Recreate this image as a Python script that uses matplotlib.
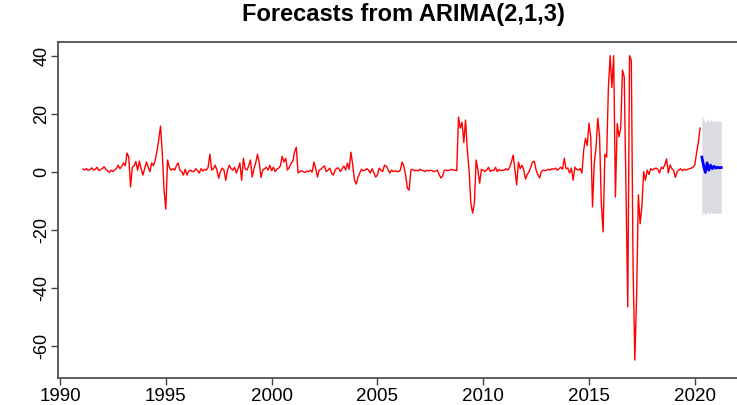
import numpy as np
import matplotlib.pyplot as plt

plt.rcParams['font.family'] = ['Liberation Sans', 'DejaVu Sans']
plt.rcParams['axes.unicode_minus'] = False

# observed monthly series, Feb 1991 .. Apr 2020
y1991 = [0.9, 0.6, 1.0, 0.4, 0.7, 1.3, 0.5, 0.8, 1.5, 0.3, 0.7]
y1992 = [1.0, 1.7, 0.8, 0.3, -0.3, 0.5, 0.0, 0.6, 1.0, 2.2, 1.0, 1.8]
y1993 = [3.0, 2.0, 6.4, 5.0, -5.3, 1.5, 2.0, 3.5, 0.5, 3.6, 1.0, -1.2]
y1994 = [1.0, 3.3, 1.5, 0.0, 3.0, 2.0, 4.0, 7.0, 11.0, 15.7, 6.4, -6.4]
y1995 = [-13.0, 4.0, 1.5, 0.5, 1.0, 0.5, 2.0, 3.0, 0.5, 0.0, -1.2, 0.8]
y1996 = [-1.2, 0.2, 0.5, 0.0, 0.0, 1.0, 0.3, -0.5, 1.0, 0.2, 0.8, 0.5]
y1997 = [1.5, 6.0, 0.5, 1.0, 2.2, 0.5, -2.3, 0.0, 1.2, 0.5, -3.0, 0.5]
y1998 = [2.2, 1.0, 0.5, 1.5, -0.5, 1.0, 3.0, -3.0, 4.6, 1.0, 0.5, 2.0]
y1999 = [4.0, -1.9, 1.0, 3.0, 6.0, 3.0, -2.0, 0.5, 1.0, 1.5, 0.5, 2.2]
y2000 = [0.3, 1.5, 0.0, 0.8, 1.2, 2.0, 5.3, 3.3, 4.6, 0.5, 1.5, 2.8]
y2001 = [3.5, 6.7, 8.4, -0.5, 0.0, 0.3, 0.0, -0.3, 0.2, 0.0, 0.5, -0.2]
y2002 = [3.3, 1.2, -1.9, 0.5, 0.8, 1.5, 1.9, 0.0, 0.5, 1.2, -0.5, -1.2]
y2003 = [0.5, 1.2, 1.2, 0.0, 1.0, 1.9, 0.5, 2.9, 0.8, 6.7, 2.3, -2.9]
y2004 = [-4.3, -2.0, -0.5, 0.8, 0.3, 0.5, 1.0, 0.5, -0.5, 1.0, -0.5, -1.9]
y2005 = [-1.2, 1.2, 0.5, 0.0, 2.2, 1.9, 0.8, -0.5, 0.5, 0.0, 0.3, 0.0]
y2006 = [0.0, 0.5, 3.3, 1.9, -1.2, -5.7, -6.4, 0.5, 0.8, 0.3, 0.5, 0.2]
y2007 = [0.8, 0.5, 0.3, 0.0, 0.5, 0.2, 0.5, 0.3, 0.0, 0.2, 0.5, -1.0]
y2008 = [-2.2, -1.5, 0.5, 0.5, 0.3, 0.5, 0.8, 0.5, 0.5, 0.3, 18.8, 15.0]
y2009 = [17.0, 10.0, 17.8, 7.4, 0.5, -11.0, -14.3, -11.0, 4.0, 0.5, -4.0, 0.8]
y2010 = [0.5, 0.0, 0.5, 1.5, 0.0, 0.5, 0.3, 1.5, 0.0, 0.8, 0.3, 0.5]
y2011 = [0.5, 1.0, 0.5, 1.5, 3.3, 5.7, 0.5, -4.6, 3.3, 1.0, 2.2, 0.5]
y2012 = [-2.6, -1.0, 0.0, 1.5, 3.3, 3.6, 0.5, -1.0, -2.2, 0.0, 0.5, 0.3]
y2013 = [0.5, 0.8, 0.5, 1.0, 0.8, 1.2, 0.5, 1.0, 1.5, 0.8, 4.6, 1.0]
y2014 = [1.2, -0.5, 1.2, -3.0, 1.5, 0.8, 0.5, 1.0, -0.5, 7.4, 11.5, 9.0]
y2015 = [16.7, 12.0, -12.2, 3.0, 8.4, 18.4, 12.0, -11.0, -20.8, 6.0, 5.0, 29.0]
y2016 = [40.0, 29.0, 40.0, -8.8, 16.6, 12.0, 15.0, 35.0, 32.6, -7.5, -46.7, 40.0]
y2017 = [38.4, -32.9, -65.0, -43.0, -8.0, -18.0, -12.0, 0.0, -3.0, 0.5, -1.0, 1.0]
y2018 = [0.5, 1.0, 1.2, 0.8, -0.5, 1.5, 1.0, 2.3, 4.4, -0.5, 2.3, 1.0]
y2019 = [0.5, -2.0, 0.0, 0.5, 1.0, 0.3, 0.8, 0.5, 0.8, 1.0, 1.2, 1.5]
y2020 = [2.3, 6.4, 10.0, 15.0]

# 12-month forecast and interval
fc_mean = [5.0, 2.0, -0.3, 3.0, 0.5, 2.2, 1.0, 1.8, 1.2, 1.5, 1.3, 1.4]
fc_upper = [19.5, 18.0, 16.5, 18.5, 17.0, 18.0, 17.0, 17.8, 17.2, 17.5, 17.3, 17.5]
fc_lower = [-15.5, -14.0, -15.0, -14.0, -14.5, -14.2, -14.5, -14.3, -14.4, -14.3, -14.4, -14.3]

xticks = [1990, 1995, 2000, 2005, 2010, 2015, 2020]
yticks = [-60, -40, -20, 0, 20, 40]

obs = np.concatenate([y1991, y1992, y1993, y1994, y1995, y1996, y1997, y1998,
                      y1999, y2000, y2001, y2002, y2003, y2004, y2005, y2006,
                      y2007, y2008, y2009, y2010, y2011, y2012, y2013, y2014,
                      y2015, y2016, y2017, y2018, y2019, y2020])
t = 1991 + 1/12 + np.arange(len(obs)) / 12
tf = t[-1] + (1 + np.arange(len(fc_mean))) / 12

fig = plt.figure(figsize=(7.37, 4.05), dpi=100)
ax = fig.add_axes([58/737, 27/405, 0.9358, 336/405])

ax.fill_between(tf, fc_lower, fc_upper, color='#DBDBE1', lw=0)
ax.plot(t, obs, color='red', lw=1.0)
ax.plot(tf, fc_mean, color='blue', lw=2.0)

ax.set_xlim(1989.905, 2022.5)
ax.set_ylim(-71.2, 44.7)
ax.set_xticks(xticks)
ax.set_yticks(yticks)
ax.tick_params(axis='x', length=5, width=1, color='#444444', labelsize=13.5, pad=2)
ax.tick_params(axis='y', length=5, width=1, color='#444444', labelsize=13, pad=0.5)
for lab in ax.get_yticklabels():
    lab.set_rotation(90)
    lab.set_va('center')
for s in ax.spines.values():
    s.set_color('#444444')
    s.set_linewidth(1.2)

fig.text(403/737, 1 - 15/405, 'Forecasts from ARIMA(2,1,3)', ha='center', va='center',
         fontsize=17, fontweight='bold')

fig.savefig('out.png', dpi=100)
